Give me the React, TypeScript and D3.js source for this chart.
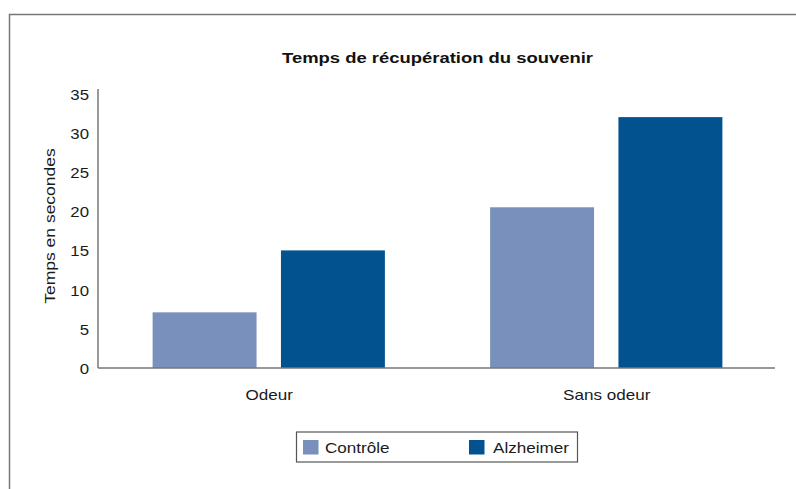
import React from "react";
import * as d3 from "d3";

const categories = ["Odeur", "Sans odeur"];
const seriesNames = ["Contrôle", "Alzheimer"];
const controleValues = [7.1, 20.5];
const alzheimerValues = [15, 32];
const yTicks = [0, 5, 10, 15, 20, 25, 30, 35];
const title = "Temps de récupération du souvenir";
const yLabel = "Temps en secondes";
const colors = ["#7990bc", "#02528f"];

const W = 796;
const H = 489;
const left = 98;
const right = 775;
const bottom = 368;
const top = 93.6;
const font = "'Liberation Sans', Arial, Helvetica, sans-serif";

type TProps = {
  x: number;
  y: number;
  anchor?: "start" | "middle" | "end";
  size?: number;
  weight?: string;
  sx?: number;
  rotate?: number;
  fill?: string;
  children: React.ReactNode;
};

function T({ x, y, anchor = "start", size = 14, weight = "normal", sx = 1.22, rotate = 0, fill = "#1a1a1a", children }: TProps) {
  return (
    <text
      transform={`translate(${x},${y}) rotate(${rotate}) scale(${sx},1)`}
      textAnchor={anchor}
      fontSize={size}
      fontWeight={weight}
      fill={fill}
      fontFamily={font}
    >
      {children}
    </text>
  );
}

export default function App() {
  const x0 = d3.scaleBand().domain(categories).range([left + 2, right]).paddingInner(0).paddingOuter(0);
  const x1 = d3
    .scaleBand()
    .domain(seriesNames)
    .range([0, x0.bandwidth()])
    .paddingInner(0.19)
    .paddingOuter(0.41);
  const y = d3.scaleLinear().domain([0, 35]).range([bottom, top]);
  const series = [controleValues, alzheimerValues];

  return (
    <svg
      width={W}
      height={H}
      style={{ position: "absolute", left: 0, top: 0, background: "#fff" }}
      fontFamily={font}
    >
      <rect x={0} y={0} width={W} height={H} fill="#fff" />
      {/* frame */}
      <rect x={9.5} y={14.5} width={W + 20} height={H + 20} fill="none" stroke="#777" strokeWidth={1.5} />
      <T x={437.5} y={62.5} anchor="middle" size={15.5} weight="bold" sx={1.19} fill="#111">
        {title}
      </T>
      {/* bars */}
      {categories.map((c, ci) =>
        seriesNames.map((s, si) => (
          <rect
            key={c + s}
            x={(x0(c) as number) + (x1(s) as number)}
            y={y(series[si][ci])}
            width={x1.bandwidth()}
            height={bottom - y(series[si][ci])}
            fill={colors[si]}
          />
        ))
      )}
      {/* axes */}
      <line x1={left} x2={left} y1={89} y2={bottom} stroke="#777" strokeWidth={1.5} />
      <line x1={left} x2={right} y1={bottom} y2={bottom} stroke="#777" strokeWidth={1.5} />
      {yTicks.map((t) => (
        <T key={t} x={89} y={y(t) + 6} anchor="end" size={14} sx={1.2}>
          {t}
        </T>
      ))}
      {categories.map((c) => (
        <T key={c} x={(x0(c) as number) + x0.bandwidth() / 2 + 0.5} y={400} anchor="middle" size={14}>
          {c}
        </T>
      ))}
      <T x={55} y={226} anchor="middle" size={14} rotate={-90} sx={1.25}>
        {yLabel}
      </T>
      {/* legend */}
      <rect x={296.5} y={432} width={281} height={30} fill="#fff" stroke="#555" strokeWidth={1.2} />
      {seriesNames.map((s, i) => (
        <g key={s}>
          <rect x={i === 0 ? 303 : 469} y={440} width={15.5} height={14.5} fill={colors[i]} />
          <T x={i === 0 ? 325 : 493} y={453} size={14}>
            {s}
          </T>
        </g>
      ))}
    </svg>
  );
}
